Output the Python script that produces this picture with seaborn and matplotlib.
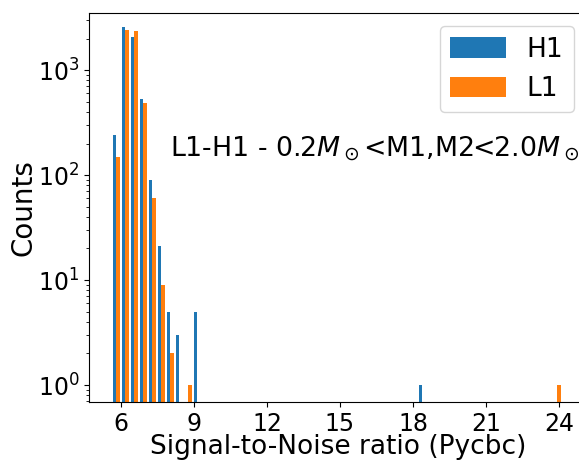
import numpy as np
import pandas as pd
import matplotlib
matplotlib.use("Agg")
import matplotlib.pyplot as plt
import seaborn as sns

# histogram binning (50 bins over the SNR range)
snr_min = 5.62
snr_max = 24.12
n_bins = 50

# non-empty bins: bin index -> counts
h1_bins = [0, 1, 2, 3, 4, 5, 6, 7, 9, 34]
h1_counts = [240, 2550, 2050, 530, 90, 21, 5, 3, 5, 1]
l1_bins = [0, 1, 2, 3, 4, 5, 6, 8, 49]
l1_counts = [150, 2400, 2350, 490, 60, 9, 2, 1, 1]

detectors = ["H1", "L1"]
colors = ["#1f77b4", "#ff7f0e"]


def build_frame():
    edges = np.linspace(snr_min, snr_max, n_bins + 1)
    centers = 0.5 * (edges[:-1] + edges[1:])
    rows = []
    for det, bins, counts in [("H1", h1_bins, h1_counts), ("L1", l1_bins, l1_counts)]:
        for b, c in zip(bins, counts):
            rows.append({"snr": centers[b], "count": c, "detector": det})
    return pd.DataFrame(rows), edges.tolist()


df, edges = build_frame()

fig = plt.figure(figsize=(5.79, 4.61), dpi=100)
ax = fig.add_axes([89 / 579, 59 / 461, 498 / 579, 389 / 461])

sns.histplot(data=df, x="snr", weights="count", hue="detector",
             hue_order=detectors, palette=colors, bins=edges,
             multiple="dodge", shrink=0.8, alpha=1, linewidth=0, ax=ax)
ax.set_yscale("log")
ax.set_ylim(0.69, 3500)
ax.set_xlim(4.69, 25.15)
ax.set_xticks(np.arange(6, 25, 3))

ax.set_xlabel("Signal-to-Noise ratio (Pycbc)", fontsize=19, labelpad=-1.5)
ax.set_ylabel("Counts", fontsize=20, labelpad=0)
ax.tick_params(axis="x", labelsize=17)
ax.tick_params(axis="y", labelsize=17)

ax.text(0.163, 0.648, r"L1-H1 - 0.2$M_\odot$<M1,M2<2.0$M_\odot$",
        transform=ax.transAxes, fontsize=19.3, va="center", ha="left")

sns.move_legend(ax, "upper right", title=None, fontsize=19,
                handlelength=2.1, handleheight=0.8)

fig.savefig("out.png", dpi=100)
